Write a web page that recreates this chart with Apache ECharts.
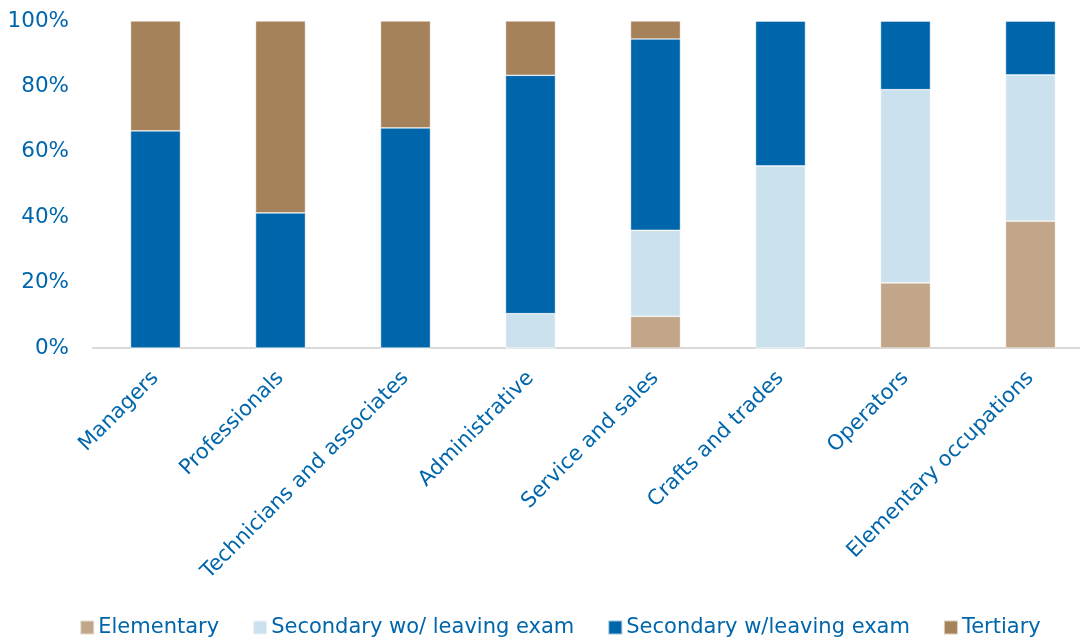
<!DOCTYPE html>
<html>
<head>
<meta charset="utf-8">
<script src="https://cdn.jsdelivr.net/npm/echarts@6/dist/echarts.min.js"></script>
<style>html,body{margin:0;padding:0;background:#fff;overflow:hidden;width:1080px;height:644px}#c{width:1120px;height:644px}</style>
</head>
<body>
<div id="c"></div>
<script>
const categories = ["Managers", "Professionals", "Technicians and associates", "Administrative", "Service and sales", "Crafts and trades", "Operators", "Elementary occupations"];
const elementary = [0, 0, 0, 0, 9.7, 0, 19.9, 38.8];
const secondaryWo = [0, 0, 0, 10.5, 26.3, 55.7, 59.1, 44.7];
const secondaryW = [66.4, 41.3, 67.3, 72.9, 58.5, 44.3, 21.0, 16.5];
const tertiary = [33.6, 58.7, 32.7, 16.6, 5.5, 0, 0, 0];
const seriesNames = ["Elementary", "Secondary wo/ leaving exam", "Secondary w/leaving exam", "Tertiary"];
const yTicks = [0, 20, 40, 60, 80, 100];

const colors = ["#C2A68A", "#CCE1EE", "#0066AC", "#A5825A"];
const font = "DejaVu Sans";
const txt = "#0066AC";
const data = [elementary, secondaryWo, secondaryW, tertiary];

const chart = echarts.init(document.getElementById('c'), null, {renderer: 'canvas'});
chart.setOption({
  animation: false,
  color: colors,
  grid: {left: 93, width: 1000, top: 21, height: 327, containLabel: false},
  legend: {
    bottom: 1, left: 'center',
    itemWidth: 14, itemHeight: 14, itemGap: 33,
    icon: 'rect',
    textStyle: {color: txt, fontFamily: font, fontSize: 21, padding: [0, 0, 0, -1]},
    data: seriesNames
  },
  xAxis: {
    type: 'category', data: categories,
    axisLine: {lineStyle: {color: '#D9D9D9', width: 2}},
    axisTick: {show: false},
    axisLabel: {rotate: 45, interval: 0, margin: 27, color: txt, fontFamily: font, fontSize: 21}
  },
  yAxis: {
    type: 'value', min: yTicks[0], max: yTicks[yTicks.length - 1], interval: 20,
    axisLine: {show: false}, axisTick: {show: false}, splitLine: {show: false},
    axisLabel: {margin: 24, color: txt, fontFamily: font, fontSize: 21.5, formatter: v => v + '%'}
  },
  series: seriesNames.map((n, i) => ({
    name: n, type: 'bar', stack: 'total', barWidth: '40%',
    itemStyle: {color: colors[i], borderColor: 'rgba(255,255,255,0.6)', borderWidth: 0.7},
    data: data[i]
  }))
});
</script>
</body>
</html>
